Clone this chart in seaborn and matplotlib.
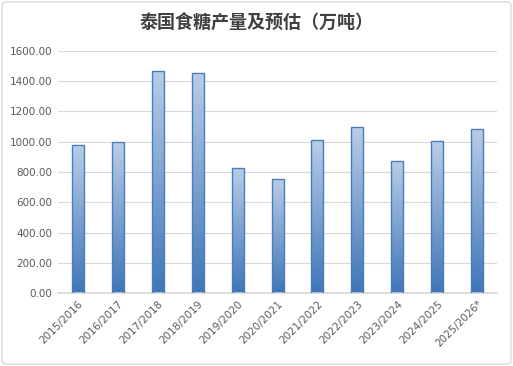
import matplotlib
matplotlib.use("Agg")
import matplotlib.pyplot as plt
import seaborn as sns
import numpy as np
import pandas as pd
from matplotlib.patches import FancyBboxPatch

seasons = ["2015/2016", "2016/2017", "2017/2018", "2018/2019", "2019/2020", "2020/2021",
           "2021/2022", "2022/2023", "2023/2024", "2024/2025", "2025/2026*"]
output = [978, 1000, 1468, 1456, 827, 757, 1011, 1098, 874, 1005, 1083]
yticks = [0, 200, 400, 600, 800, 1000, 1200, 1400, 1600]
title = "泰国食糖产量及预估（万吨）"

sns.set_theme(style="white")
plt.rcParams['font.family'] = ['Noto Sans CJK SC', 'DejaVu Sans']

df = pd.DataFrame({"season": seasons, "output": output})

fig = plt.figure(figsize=(5.13, 3.66), dpi=100)
ax = fig.add_axes([0.113, 0.199, 0.856, 0.662])
sns.barplot(data=df, x="season", y="output", ax=ax, width=0.3,
            color="#4a7ebb", edgecolor="#4a7ebb", linewidth=1.0, saturation=1)

# gradient fill
from matplotlib.colors import LinearSegmentedColormap
cmap = LinearSegmentedColormap.from_list("g", ["#3f76b8", "#b9cde8"])
grad = np.linspace(0, 1, 256).reshape(-1, 1)
for p in ax.patches:
    x0, y0 = p.get_x(), p.get_y()
    w, h = p.get_width(), p.get_height()
    p.set_facecolor("none")
    im = ax.imshow(grad, extent=[x0, x0 + w, y0, y0 + h], origin="lower",
                   cmap=cmap, aspect="auto", zorder=p.get_zorder() - 0.1)
    im.set_clip_path(p)
    p.set_zorder(3)

ax.set_xlim(-0.5, len(seasons) - 0.5)
ax.set_ylim(0, 1600)
ax.set_yticks(yticks)
ax.set_yticklabels([f"{v:.2f}" for v in yticks], fontsize=7.5, color="#595959",
                   family=['DejaVu Sans'])
ax.set_xticks(range(len(seasons)))
ax.set_xticklabels(seasons, rotation=45, ha="right", rotation_mode="anchor",
                   fontsize=7.5, color="#595959", family=['DejaVu Sans'])
ax.tick_params(axis="both", length=0, pad=4)
ax.yaxis.grid(True, color="#d9d9d9", linewidth=0.8)
ax.set_axisbelow(True)
for s in ["top", "right", "left"]:
    ax.spines[s].set_visible(False)
ax.spines["bottom"].set_color("#d9d9d9")
ax.set_xlabel("")
ax.set_ylabel("")

fig.text(0.5, 0.94, title, ha="center", va="center", fontsize=13, color="#404040",
         fontweight="bold")

border = FancyBboxPatch((0.004, 0.005), 0.992, 0.99, boxstyle="round,pad=0,rounding_size=0.01",
                        transform=fig.transFigure, fill=False, edgecolor="#d9d9d9", linewidth=1)
fig.patches.append(border)

fig.savefig("out.png", dpi=100)
